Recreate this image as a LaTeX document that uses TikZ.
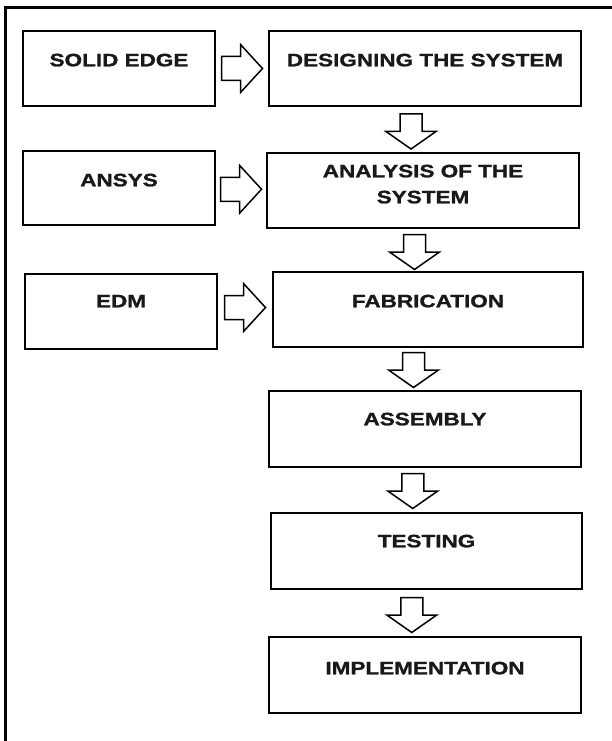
\documentclass[tikz,border=0pt]{standalone}
\usepackage{fontspec}
\newfontfamily\lblfont{Liberation Sans}[FakeStretch=1.25, FakeBold=1.2]
\usetikzlibrary{calc}
\tikzset{
  box/.style={draw=black, line width=1.8pt, rectangle, inner sep=0pt, fill=white},
  lbl/.style={font=\lblfont\bfseries\fontsize{18}{26}\selectfont, inner sep=0pt, align=center, text=black!90},
  blockarrow/.style={draw=black, line width=1.5pt, fill=white, line join=miter},
  downarrow/.pic={\draw[blockarrow] (-11,-17.5) -- (11,-17.5) -- (11,0) -- (25,0) -- (0,17.5) -- (-25,0) -- (-11,0) -- cycle;},
  rightarrow/.pic={\draw[blockarrow] (-20.5,-12) -- (-1.5,-12) -- (-1.5,-24) -- (20.5,0) -- (-1.5,24) -- (-1.5,12) -- (-20.5,12) -- cycle;},
}
\begin{document}
\begin{tikzpicture}[x=1pt, y=-1pt]
\useasboundingbox (0,0) rectangle (612,741);
% frame
\draw[line width=3pt] (4,7.5) -- (612,7.5);
\draw[line width=3pt] (5.5,6) -- (5.5,741);
% boxes
\node[box, minimum width=192pt, minimum height=75pt] (se)  at (119,68.5) {};
\node[box, minimum width=312pt, minimum height=75pt] (des) at (425,68.5) {};
\node[box, minimum width=192pt, minimum height=74pt] (ans) at (119,188) {};
\node[box, minimum width=312pt, minimum height=75pt] (ana) at (423,190.5) {};
\node[box, minimum width=192pt, minimum height=75pt] (edm) at (121,311.5) {};
\node[box, minimum width=310pt, minimum height=75pt] (fab) at (428,309.5) {};
\node[box, minimum width=312pt, minimum height=76pt] (asm) at (425,429) {};
\node[box, minimum width=311pt, minimum height=76pt] (tst) at (426.5,551) {};
\node[box, minimum width=312pt, minimum height=76pt] (imp) at (425,675) {};
% labels
\node[lbl] (seT)  at ($(se.north)+(0,30)$) {SOLID EDGE};
\node[lbl] (desT) at ($(des.north)+(0,30)$) {DESIGNING THE SYSTEM};
\node[lbl] (ansT) at ($(ans.north)+(0,30)$) {ANSYS};
\node[lbl] (anaT) at ($(ana.north)+(0,32)$) {ANALYSIS OF THE\\SYSTEM};
\node[lbl] (edmT) at ($(edm.north)+(0,28)$) {EDM};
\node[lbl] (fabT) at ($(fab.north)+(0,30)$) {FABRICATION};
\node[lbl] (asmT) at ($(asm.north)+(0,29)$) {ASSEMBLY};
\node[lbl] (tstT) at ($(tst.north)+(0,29)$) {TESTING};
\node[lbl] (impT) at ($(imp.north)+(0,32)$) {IMPLEMENTATION};
% right block arrows
\pic at ($(se.east)!0.5!(des.west)$) {rightarrow};
\pic at ($(ans.east)!0.5!(ana.west)$) {rightarrow};
\pic at ($(edm.east)!0.5!(fab.west)+(0,-3)$) {rightarrow};
% down block arrows
\pic at ($(des.south)!0.5!(ana.north)+(-13,2)$) {downarrow};
\pic at ($(ana.south)!0.5!(fab.north)+(-11,2)$) {downarrow};
\pic at ($(fab.south)!0.5!(asm.north)+(-13,1)$) {downarrow};
\pic at ($(asm.south)!0.5!(tst.north)+(-13,1)$) {downarrow};
\pic at ($(tst.south)!0.5!(imp.north)+(-14,2)$) {downarrow};
\end{tikzpicture}
\end{document}
